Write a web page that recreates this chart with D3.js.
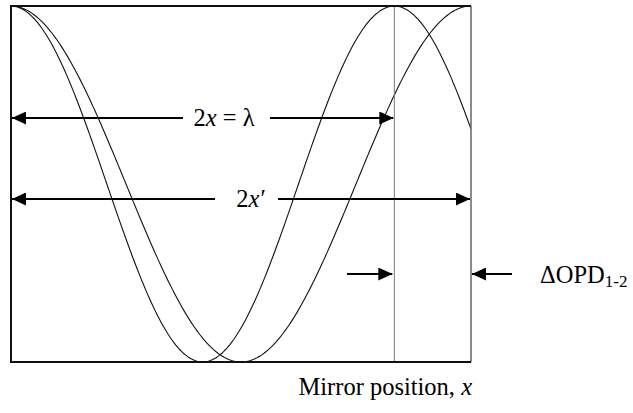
<!DOCTYPE html>
<html>
<head>
<meta charset="utf-8">
<script src="https://cdn.jsdelivr.net/npm/d3@7"></script>
<style>
  html, body { margin: 0; padding: 0; background: #fff; }
  svg { display: block; }
  text { font-family: "Liberation Serif", "Times New Roman", serif; fill: #000; }
</style>
</head>
<body>
<svg id="chart" width="633" height="413"></svg>
<script>
// Two interference signals: wavelength λ and a slightly longer one (λ')
const wavelengths = [1.0, 1.2];
// Mirror position span shown on the plot (in units of λ)
const mirrorDomain = [0, 1.2];
const amplitudeDomain = [-1, 1];
const sampleCount = 240;

// Annotation labels
const labelLambda = "2x = λ";
const labelLambdaPrime = "2x′";
const labelDelta = "ΔOPD";
const labelDeltaSub = "1-2";
const axisTitle = "Mirror position, ";
const axisTitleVar = "x";

const svg = d3.select("#chart");
const plotLeft = 11, plotRight = 471, plotTop = 6, plotBottom = 362;
const fontSize = "24.5px";

const x = d3.scaleLinear().domain(mirrorDomain).range([plotLeft, plotRight]);
const y = d3.scaleLinear().domain(amplitudeDomain).range([plotBottom, plotTop]);

const defs = svg.append("defs");
defs.append("marker")
  .attr("id", "head")
  .attr("viewBox", "0 0 14 13")
  .attr("refX", 14).attr("refY", 6.5)
  .attr("markerWidth", 14).attr("markerHeight", 13)
  .attr("markerUnits", "userSpaceOnUse")
  .attr("orient", "auto")
  .append("path").attr("d", "M0,0 L14,6.5 L0,13 Z").attr("fill", "#000");

defs.append("clipPath").attr("id", "plotClip")
  .append("rect").attr("x", plotLeft).attr("y", plotTop - 1)
  .attr("width", plotRight - plotLeft).attr("height", plotBottom - plotTop + 2);

// Cosine fringes
const line = d3.line().x(d => x(d[0])).y(d => y(d[1]));
const xs = d3.range(sampleCount + 1).map(i => mirrorDomain[0] + (mirrorDomain[1] - mirrorDomain[0]) * i / sampleCount);
svg.append("g").attr("clip-path", "url(#plotClip)")
  .selectAll("path").data(wavelengths).join("path")
  .attr("d", w => line(xs.map(v => [v, Math.cos(2 * Math.PI * v / w)])))
  .attr("fill", "none").attr("stroke", "#111").attr("stroke-width", 1.1);

// Marker line at x = λ
svg.append("line")
  .attr("x1", x(wavelengths[0])).attr("x2", x(wavelengths[0]))
  .attr("y1", plotTop).attr("y2", plotBottom)
  .attr("stroke", "#777").attr("stroke-width", 1);

// Frame
svg.append("line").attr("x1", plotRight).attr("x2", plotRight).attr("y1", plotTop).attr("y2", plotBottom)
  .attr("stroke", "#666").attr("stroke-width", 1.5);
svg.append("path")
  .attr("d", `M${plotRight},${plotTop} L${plotLeft},${plotTop} L${plotLeft},${plotBottom} L${plotRight},${plotBottom}`)
  .attr("fill", "none").attr("stroke", "#111").attr("stroke-width", 2);

function arrow(x1, x2, yy) {
  svg.append("line").attr("x1", x1).attr("x2", x2).attr("y1", yy).attr("y2", yy)
    .attr("stroke", "#000").attr("stroke-width", 2)
    .attr("marker-end", "url(#head)");
}

// 2x = λ dimension
const y1 = 118;
const t1 = svg.append("text").attr("x", 224).attr("y", y1 + 8).attr("text-anchor", "middle")
  .style("font-size", fontSize);
t1.append("tspan").text("2");
t1.append("tspan").style("font-style", "italic").text("x");
t1.append("tspan").text(labelLambda.slice(2));
arrow(183, x(mirrorDomain[0]) + 1, y1);
arrow(270, x(wavelengths[0]) - 1, y1);

// 2x' dimension
const y2 = 199;
const t2 = svg.append("text").attr("x", 251).attr("y", y2 + 8).attr("text-anchor", "middle")
  .style("font-size", fontSize);
t2.append("tspan").text("2");
t2.append("tspan").style("font-style", "italic").text("x");
t2.append("tspan").attr("dx", 1).text(labelLambdaPrime.slice(2));
arrow(215, x(mirrorDomain[0]) + 1, y2);
arrow(278, x(wavelengths[1]) - 1, y2);

// ΔOPD between the two peaks
const y3 = 274;
arrow(347, x(wavelengths[0]) - 2, y3);
arrow(512, x(wavelengths[1]) + 1, y3);
const t3 = svg.append("text").attr("x", 540).attr("y", y3 + 9).style("font-size", fontSize);
t3.append("tspan").text(labelDelta);
t3.append("tspan").attr("dy", 4).style("font-size", "17px").text(labelDeltaSub);

// Axis title
const t4 = svg.append("text").attr("x", plotRight + 1).attr("y", 395).attr("text-anchor", "end")
  .style("font-size", fontSize);
t4.append("tspan").text(axisTitle);
t4.append("tspan").style("font-style", "italic").text(axisTitleVar);
</script>
</body>
</html>
